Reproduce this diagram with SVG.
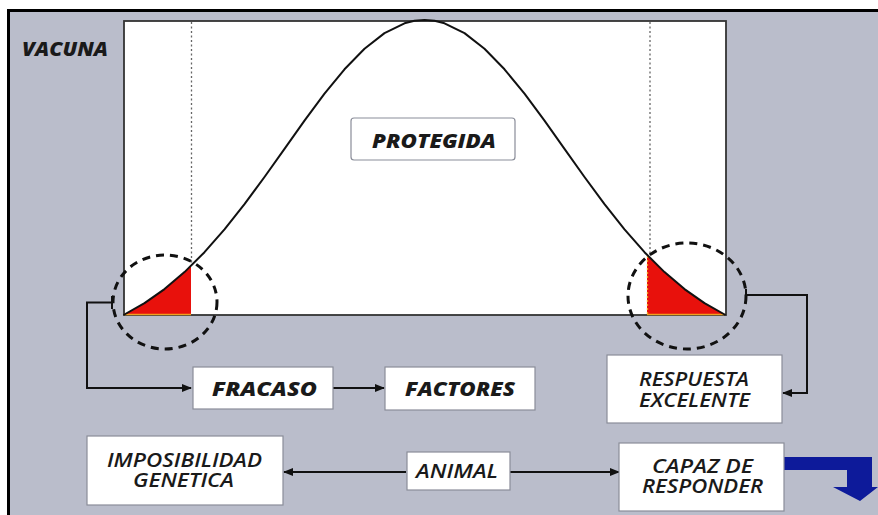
<svg xmlns="http://www.w3.org/2000/svg" width="878" height="515" viewBox="0 0 878 515">
<defs>
<style>
.box{fill:#fff;stroke:#8a8d99;stroke-width:1.2}
.t{font-family:"Open Sans","Noto Sans","Liberation Sans",sans-serif;font-style:italic;font-weight:600;font-size:19px;fill:#1a1a1a;text-anchor:start}
.b{font-weight:800;font-size:19px}
.con{fill:none;stroke:#111;stroke-width:2}
.dot{stroke:#666;stroke-width:1.3;stroke-dasharray:2 2.5}
.circ{fill:none;stroke:#111;stroke-width:3;stroke-dasharray:8 6}
</style>
<marker id="ah" viewBox="0 0 10 10" refX="9" refY="5" markerWidth="10" markerHeight="10" markerUnits="userSpaceOnUse" orient="auto-start-reverse">
<path d="M0,1 L10,5 L0,9 Z" fill="#111"/>
</marker>
</defs>
<rect x="0" y="0" width="878" height="515" fill="#fff"/>
<rect x="7" y="9" width="871" height="506" fill="#babdcb"/>
<path d="M7,10.5 H878 M8.5,9 V515" stroke="#000" stroke-width="3" fill="none"/>
<text class="t b" x="22" y="56" textLength="86" lengthAdjust="spacingAndGlyphs">VACUNA</text>

<g id="chart">
<rect x="124" y="21" width="602" height="294" fill="#fff" stroke="#333" stroke-width="1.8"/>
<line class="dot" x1="191.5" y1="22" x2="191.5" y2="264"/>
<line class="dot" x1="650" y1="22" x2="650" y2="256"/>
<path d="M123.5,315 L144.5,303.1 L164.5,289.1 L184.5,272.1 L191,266 L191,315 Z" fill="#e8110c"/>
<path d="M647,255 L664.5,272.1 L684.5,289.1 L704.5,303.1 L725.5,315 L647,315 Z" fill="#e8110c"/>
<line x1="124" y1="314.5" x2="191" y2="314.5" stroke="#f0a020" stroke-width="1.5"/>
<line x1="647.5" y1="256" x2="647.5" y2="315" stroke="#f0a020" stroke-width="1.3" stroke-dasharray="2 2"/>
<line x1="647" y1="314.5" x2="725" y2="314.5" stroke="#f0a020" stroke-width="1.5"/>
<polyline fill="none" stroke="#111" stroke-width="2" stroke-linejoin="round" points="123.5,315 144.5,303.1 164.5,289.1 184.5,272.1 204.5,252.2 224.5,229.4 244.5,204.2 264.5,177 284.5,148.8 304.5,120.7 324.5,93.7 344.5,69.3 364.5,48.7 384.5,33.1 404.5,23.3 414.5,20.8 424.5,20 434.5,20.8 444.5,23.3 464.5,33.1 484.5,48.7 504.5,69.3 524.5,93.7 544.5,120.7 564.5,148.8 584.5,177 604.5,204.2 624.5,229.4 644.5,252.2 664.5,272.1 684.5,289.1 704.5,303.1 725.5,315"/>
<ellipse class="circ" cx="165" cy="302" rx="52" ry="47"/>
<ellipse class="circ" cx="687" cy="296" rx="59" ry="53"/>
</g>

<g id="protegida">
<rect class="box" x="351" y="118" width="164" height="42" rx="3"/>
<text class="t b" x="372" y="148" textLength="124" lengthAdjust="spacingAndGlyphs">PROTEGIDA</text>
</g>

<g id="connectors">
<path class="con" d="M112,296 V309 M112,302.5 H87 V388 H191" marker-end="url(#ah)"/>
<path class="con" d="M333,388 H384" marker-end="url(#ah)"/>
<path class="con" d="M746,289 V301 M746,295 H807 V393 H783" marker-end="url(#ah)"/>
<path class="con" d="M284,472 H406" marker-start="url(#ah)"/>
<path class="con" d="M510,472 H619" marker-end="url(#ah)"/>
<path d="M784,457 H872 V487 H878 L860,501 L833,487 H847 V470 H784 Z" fill="#0d1a9a"/>
</g>

<g id="fracaso">
<rect class="box" x="193" y="367" width="140" height="42"/>
<text class="t b" x="212" y="396" textLength="105" lengthAdjust="spacingAndGlyphs">FRACASO</text>
</g>
<g id="factores">
<rect class="box" x="385" y="367" width="150" height="43"/>
<text class="t b" x="405" y="396" textLength="110" lengthAdjust="spacingAndGlyphs">FACTORES</text>
</g>
<g id="respuesta">
<rect class="box" x="607" y="355" width="175" height="68"/>
<text class="t"><tspan x="639" y="386" textLength="110" lengthAdjust="spacingAndGlyphs">RESPUESTA</tspan><tspan x="639" y="407" textLength="111" lengthAdjust="spacingAndGlyphs">EXCELENTE</tspan></text>
</g>
<g id="imposibilidad">
<rect class="box" x="87" y="436" width="196" height="69"/>
<text class="t"><tspan x="107" y="467" textLength="155" lengthAdjust="spacingAndGlyphs">IMPOSIBILIDAD</tspan><tspan x="133" y="487" textLength="101" lengthAdjust="spacingAndGlyphs">GENETICA</tspan></text>
</g>
<g id="animal">
<rect class="box" x="407" y="452" width="103" height="38"/>
<text class="t" x="416" y="478" textLength="82" lengthAdjust="spacingAndGlyphs">ANIMAL</text>
</g>
<g id="capaz">
<rect class="box" x="619" y="443" width="165" height="68"/>
<text class="t"><tspan x="652" y="473" textLength="101" lengthAdjust="spacingAndGlyphs">CAPAZ DE</tspan><tspan x="642" y="493" textLength="121" lengthAdjust="spacingAndGlyphs">RESPONDER</tspan></text>
</g>
</svg>
